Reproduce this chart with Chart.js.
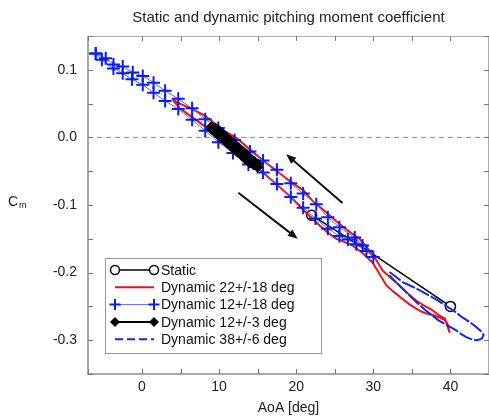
<!DOCTYPE html>
<html>
<head>
<meta charset="utf-8">
<script src="https://cdn.jsdelivr.net/npm/chart.js@4"></script>
<style>
  html, body { margin: 0; padding: 0; background: #fff; }
</style>
</head>
<body>
<canvas id="cm_chart" width="489" height="419"></canvas>
<script>
// values
var aoaStatic = [22, 30, 40];
var cmStatic = [-0.115, -0.173, -0.25];

// Dynamic 22+/-18 deg (pitch up then pitch down)
var aoaRed = [4.0, 4.9, 6.5, 8.2, 10.0, 11.8, 13.5, 15.3, 17.2, 19.2, 20.9, 22.6, 24.0, 25.2, 26.3, 27.3, 28.6, 29.9, 30.8, 31.7, 32.8, 33.8, 34.7, 35.5, 36.3, 37.0, 37.8, 38.5, 39.2, 39.6, 39.9,
              39.6, 39.3, 38.5, 37.7, 36.6, 35.5, 34.4, 33.4, 32.3, 31.2, 30.3, 29.2, 28.2, 26.7, 25.2, 23.7, 22.2, 20.9, 19.6, 17.5, 15.7, 13.8, 12.5, 11.5, 10.5, 8.2, 6.5, 4.9, 4.0];
var cmRed = [0.055, 0.043, 0.030, 0.016, -0.001, -0.016, -0.032, -0.048, -0.067, -0.087, -0.107, -0.126, -0.140, -0.150, -0.155, -0.160, -0.171, -0.185, -0.202, -0.219, -0.230, -0.239, -0.247, -0.253, -0.258, -0.261, -0.263, -0.266, -0.270, -0.275, -0.289,
             -0.279, -0.268, -0.263, -0.256, -0.249, -0.241, -0.230, -0.219, -0.208, -0.197, -0.180, -0.163, -0.150, -0.138, -0.124, -0.109, -0.095, -0.078, -0.068, -0.050, -0.034, -0.016, -0.003, 0.004, 0.011, 0.032, 0.042, 0.050, 0.056];

// Dynamic 12+/-18 deg
var aoaBlue = [-6.0, -5.2, -3.7, -2.5, -1.3, 0.1, 1.5, 3.0, 4.7, 6.5, 8.2, 9.9, 11.8, 13.8, 15.7, 17.5, 19.3, 20.9, 22.5, 24.1, 25.6, 26.7, 27.8, 29.1, 30.0,
               28.6, 27.6, 25.6, 24.1, 22.6, 20.9, 19.3, 17.5, 15.7, 14.0, 12.0, 9.9, 8.2, 6.5, 4.7, 3.0, 1.5, 0.1, -1.2, -2.5, -3.7, -4.7, -6.0];
var cmBlue = [0.124, 0.115, 0.102, 0.095, 0.086, 0.078, 0.066, 0.054, 0.042, 0.026, 0.010, -0.007, -0.023, -0.040, -0.052, -0.069, -0.088, -0.104, -0.120, -0.135, -0.146, -0.151, -0.158, -0.168, -0.177,
              -0.160, -0.148, -0.133, -0.118, -0.099, -0.083, -0.068, -0.048, -0.034, -0.021, -0.004, 0.014, 0.027, 0.043, 0.057, 0.069, 0.081, 0.091, 0.096, 0.105, 0.108, 0.117, 0.124];

// Dynamic 12+/-3 deg
var aoaBlack = [9.0, 9.5, 10.0, 10.5, 11.0, 11.5, 12.0, 12.5, 13.0, 13.5, 14.0, 14.5, 15.0,
                15.0, 14.5, 14.0, 13.5, 13.0, 12.5, 12.0, 11.5, 11.0, 10.5, 10.0, 9.5, 9.0];
var cmBlack = [0.012, 0.007, 0.002, -0.003, -0.008, -0.013, -0.018, -0.023, -0.028, -0.033, -0.038, -0.041, -0.044,
               -0.039, -0.035, -0.030, -0.025, -0.020, -0.015, -0.010, -0.005, 0.000, 0.005, 0.010, 0.014, 0.016];

// Dynamic 38+/-6 deg
var aoaDash = [32.1, 33.0, 33.8, 35.3, 36.8, 38.2, 39.4, 40.5, 41.5, 42.5, 43.3, 43.9, 44.3, 44.1, 43.8, 43.3, 42.6, 42.0, 41.4, 40.7, 39.6, 38.5, 37.6, 36.8, 35.8, 34.7, 33.8, 32.9, 32.1];
var cmDash = [-0.199, -0.207, -0.214, -0.222, -0.231, -0.240, -0.249, -0.257, -0.266, -0.273, -0.280, -0.286, -0.292, -0.297, -0.299, -0.300, -0.298, -0.295, -0.291, -0.285, -0.278, -0.271, -0.263, -0.256, -0.246, -0.234, -0.224, -0.214, -0.204];

var seriesLabels = ['Static', 'Dynamic 22+/-18 deg', 'Dynamic 12+/-18 deg', 'Dynamic 12+/-3 deg', 'Dynamic 38+/-6 deg'];
var xTickLabels = [0, 10, 20, 30, 40];
var yTickLabels = ['-0.3', '-0.2', '-0.1', '0.0', '0.1'];

// arrows drawn on the plot, in data units [x0, y0, x1, y1]
var arrowsDown = [26.0, -0.097, 18.7, -0.025];
var arrowsUp = [12.5, -0.082, 20.2, -0.150];

var FONT = "'Liberation Sans', Arial, Helvetica, sans-serif";

function pts(xs, ys) {
  return xs.map(function(x, i) { return {x: x, y: ys[i]}; });
}

function drawArrow(ctx, chart, a) {
  var xs = chart.scales.x, ys = chart.scales.y;
  var x0 = xs.getPixelForValue(a[0]), y0 = ys.getPixelForValue(a[1]);
  var x1 = xs.getPixelForValue(a[2]), y1 = ys.getPixelForValue(a[3]);
  var ang = Math.atan2(y1 - y0, x1 - x0);
  var len = 10, half = 4;
  ctx.save();
  ctx.strokeStyle = '#111';
  ctx.fillStyle = '#111';
  ctx.lineWidth = 2;
  ctx.beginPath();
  ctx.moveTo(x0, y0);
  ctx.lineTo(x1 - Math.cos(ang) * len * 0.8, y1 - Math.sin(ang) * len * 0.8);
  ctx.stroke();
  ctx.beginPath();
  ctx.moveTo(x1, y1);
  ctx.lineTo(x1 - Math.cos(ang) * len - Math.sin(ang) * half, y1 - Math.sin(ang) * len + Math.cos(ang) * half);
  ctx.lineTo(x1 - Math.cos(ang) * len + Math.sin(ang) * half, y1 - Math.sin(ang) * len - Math.cos(ang) * half);
  ctx.closePath();
  ctx.fill();
  ctx.restore();
}

function drawMarker(ctx, style, x, y, r, stroke, fill, lw) {
  ctx.save();
  ctx.lineWidth = lw;
  ctx.strokeStyle = stroke;
  ctx.fillStyle = fill;
  ctx.beginPath();
  if (style === 'circle') {
    ctx.arc(x, y, r, 0, Math.PI * 2);
    ctx.fill();
    ctx.stroke();
  } else if (style === 'cross') {
    ctx.moveTo(x - r, y); ctx.lineTo(x + r, y);
    ctx.moveTo(x, y - r); ctx.lineTo(x, y + r);
    ctx.stroke();
  } else if (style === 'rectRot') {
    ctx.moveTo(x - r, y); ctx.lineTo(x, y - r); ctx.lineTo(x + r, y); ctx.lineTo(x, y + r);
    ctx.closePath();
    ctx.fill();
  }
  ctx.restore();
}

var decorations = {
  id: 'decorations',
  afterDatasetsDraw: function(chart) {
    drawArrow(chart.ctx, chart, arrowsDown);
    drawArrow(chart.ctx, chart, arrowsUp);
  },
  afterDraw: function(chart) {
    var ctx = chart.ctx, a = chart.chartArea;
    var xs = chart.scales.x, ys = chart.scales.y;
    ctx.save();
    // axes box
    ctx.strokeStyle = '#aaa';
    ctx.lineWidth = 1;
    ctx.strokeRect(a.left + 0.5, a.top + 0.5, a.right - a.left - 1, a.bottom - a.top - 1);
    ctx.lineWidth = 2;
    ctx.beginPath();
    ctx.moveTo(a.left, a.top); ctx.lineTo(a.left, a.bottom); ctx.lineTo(a.right, a.bottom);
    ctx.stroke();
    // inward ticks
    ctx.strokeStyle = '#777';
    ctx.lineWidth = 1;
    ctx.beginPath();
    xs.ticks.forEach(function(t) {
      var px = Math.round(xs.getPixelForValue(t.value)) + 0.5;
      ctx.moveTo(px, a.bottom); ctx.lineTo(px, a.bottom - 5);
      ctx.moveTo(px, a.top); ctx.lineTo(px, a.top + 5);
    });
    ys.ticks.forEach(function(t) {
      var py = Math.round(ys.getPixelForValue(t.value)) + 0.5;
      ctx.moveTo(a.left, py); ctx.lineTo(a.left + 5, py);
      ctx.moveTo(a.right, py); ctx.lineTo(a.right - 5, py);
    });
    ctx.stroke();

    // y axis title C_m
    ctx.fillStyle = '#222';
    ctx.textBaseline = 'middle';
    ctx.textAlign = 'left';
    ctx.font = '14px ' + FONT;
    ctx.fillText('C', 8, 202);
    var cw = ctx.measureText('C').width;
    ctx.font = '9px ' + FONT;
    ctx.fillText('m', 8 + cw + 1, 206);

    // legend
    var lx = 105, ly = 258, lw = 216, lh = 95;
    ctx.fillStyle = '#fff';
    ctx.fillRect(lx, ly, lw, lh);
    ctx.strokeStyle = '#999';
    ctx.lineWidth = 1;
    ctx.strokeRect(lx + 0.5, ly + 0.5, lw, lh);
    var x0 = 115, x1 = 154, textX = 161;
    chart.data.datasets.forEach(function(ds) {
      if (!ds.inLegend) return;
      var yy = 270 + ds.legendRow * 17.3;
      ctx.save();
      ctx.strokeStyle = ds.borderColor;
      ctx.lineWidth = ds.borderWidth;
      ctx.setLineDash(ds.legendDash || []);
      ctx.beginPath();
      ctx.moveTo(x0, yy); ctx.lineTo(x1, yy);
      ctx.stroke();
      ctx.restore();
      if (ds.legendMarker) {
        drawMarker(ctx, ds.pointStyle, x0, yy, ds.legendMarker, ds.pointBorderColor, ds.pointBackgroundColor, ds.pointBorderWidth);
        drawMarker(ctx, ds.pointStyle, x1, yy, ds.legendMarker, ds.pointBorderColor, ds.pointBackgroundColor, ds.pointBorderWidth);
      }
      ctx.fillStyle = '#111';
      ctx.font = '14px ' + FONT;
      ctx.textBaseline = 'middle';
      ctx.fillText(ds.label, textX, yy + 1);
    });
    ctx.restore();
  }
};

var cmChart = new Chart(document.getElementById('cm_chart'), {
  type: 'scatter',
  data: {
    datasets: [{
      label: 'zero',
      data: pts([-7, 45], [0, 0]),
      showLine: true,
      borderColor: '#888',
      borderWidth: 1,
      borderDash: [5, 4],
      pointRadius: 0,
      order: 6
    }, {
      label: seriesLabels[0],
      data: pts(aoaStatic, cmStatic),
      showLine: true,
      borderColor: '#000',
      borderWidth: 1.5,
      pointStyle: 'circle',
      pointRadius: [5, 0, 5],
      pointBorderColor: '#000',
      pointBackgroundColor: '#fff',
      pointBorderWidth: 1.5,
      inLegend: true, legendRow: 0, legendMarker: 4.5,
      order: 5
    }, {
      label: seriesLabels[1],
      data: pts(aoaRed, cmRed),
      showLine: true,
      borderColor: '#e8141b',
      borderWidth: 2,
      pointRadius: 0,
      inLegend: true, legendRow: 1,
      order: 4
    }, {
      label: seriesLabels[2],
      data: pts(aoaBlue, cmBlue),
      showLine: true,
      borderColor: '#5a6be0',
      borderWidth: 1,
      pointStyle: 'cross',
      pointRadius: 6.5,
      pointBorderColor: '#0a1ef0',
      pointBackgroundColor: '#0a1ef0',
      pointBorderWidth: 2,
      inLegend: true, legendRow: 2, legendMarker: 5.5,
      order: 3
    }, {
      label: seriesLabels[3],
      data: pts(aoaBlack, cmBlack),
      showLine: true,
      borderColor: '#000',
      borderWidth: 2,
      pointStyle: 'rectRot',
      pointRadius: 5,
      pointBorderColor: '#000',
      pointBackgroundColor: '#000',
      pointBorderWidth: 1,
      inLegend: true, legendRow: 3, legendMarker: 5,
      order: 2
    }, {
      label: seriesLabels[4],
      data: pts(aoaDash, cmDash),
      showLine: true,
      borderColor: '#1428e0',
      borderWidth: 2,
      borderDash: [14, 2],
      pointRadius: 0,
      inLegend: true, legendRow: 4, legendDash: [8, 4],
      order: 1
    }]
  },
  options: {
    responsive: false,
    animation: false,
    layout: { autoPadding: false, padding: { left: 0, top: 0, bottom: 0, right: 0 } },
    plugins: {
      legend: { display: false },
      tooltip: { enabled: false },
      title: {
        display: true,
        text: 'Static and dynamic pitching moment coefficient',
        fullSize: false,
        color: '#222',
        font: { family: FONT, size: 15, weight: 'normal' },
        padding: { top: 9, bottom: 9 }
      }
    },
    scales: {
      x: {
        type: 'linear',
        min: -7,
        max: 45,
        grid: { display: false, drawTicks: false },
        border: { display: false },
        afterFit: function(s) { s.height = 45; s.paddingLeft = 0; s.paddingRight = 0; },
        ticks: {
          stepSize: 5,
          autoSkip: false,
          maxRotation: 0,
          padding: 5,
          color: '#222',
          font: { family: FONT, size: 14 },
          callback: function(v) { return xTickLabels.indexOf(v) >= 0 ? String(v) : ''; }
        },
        title: {
          display: true,
          text: 'AoA [deg]',
          color: '#222',
          font: { family: FONT, size: 14 },
          padding: { top: 0, bottom: 2 }
        }
      },
      y: {
        type: 'linear',
        min: -0.35,
        max: 0.15,
        grid: { display: false, drawTicks: false },
        border: { display: false },
        afterFit: function(s) { s.width = 88; s.paddingTop = 0; s.paddingBottom = 0; },
        ticks: {
          stepSize: 0.05,
          autoSkip: false,
          padding: 11,
          color: '#222',
          font: { family: FONT, size: 14 },
          callback: function(v) {
            var s = v.toFixed(1);
            if (s === '-0.0') s = '0.0';
            return (Math.abs(v * 10 - Math.round(v * 10)) < 1e-6 && yTickLabels.indexOf(s) >= 0) ? s : '';
          }
        }
      }
    }
  },
  plugins: [decorations]
});

// stretch the plot area to the right edge of the canvas, like the reference
var gap = cmChart.width - cmChart.chartArea.right;
if (gap > 0.5) {
  cmChart.options.layout.padding.right = -gap;
  cmChart.update();
}
</script>
</body>
</html>
